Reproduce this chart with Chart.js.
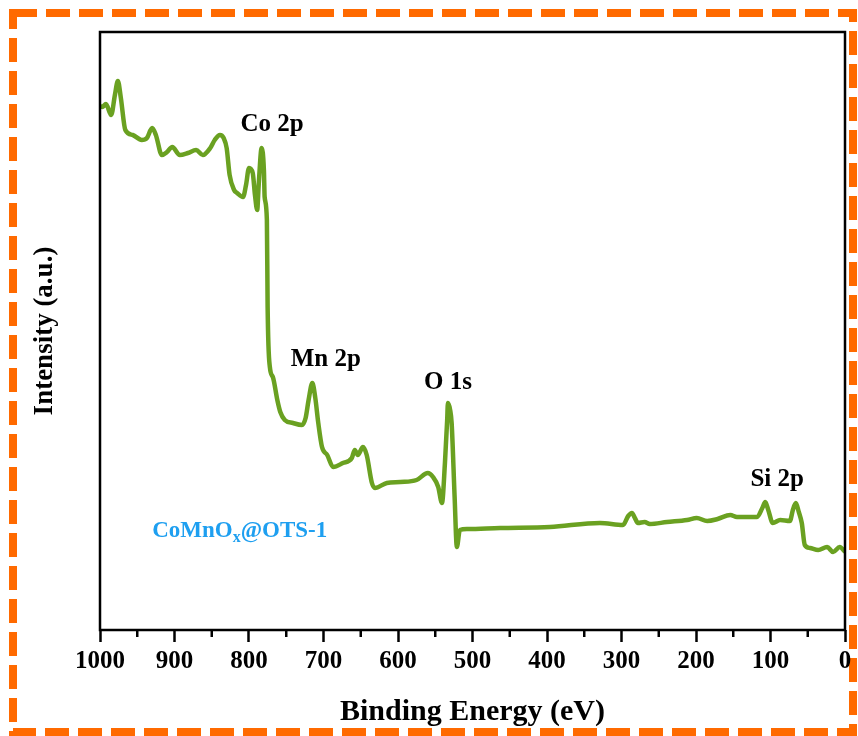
<!DOCTYPE html>
<html>
<head>
<meta charset="utf-8">
<script src="https://cdn.jsdelivr.net/npm/chart.js@4"></script>
<style>
  body { margin: 0; background: #fff; }
  canvas { display: block; }
</style>
</head>
<body>
<canvas id="xps" width="858" height="736"></canvas>
<script>
/* ========= DATA ========= */

const energy = [1000, 997, 992, 985, 980, 976, 972, 966, 956, 944, 937, 930, 925, 917, 910, 903, 893, 882, 871, 862,
  852, 846, 839, 834, 830, 826, 820, 816, 808, 804, 800, 795, 792, 789, 787, 783, 780, 779, 776, 775,
  772, 768, 762, 758, 752, 741, 729, 724, 720, 715, 711, 707, 702, 695, 687, 674, 662, 658, 654, 647,
  642, 635, 631, 615, 597, 575, 560, 553, 546, 541, 537, 534, 533, 530, 528, 524, 521, 517, 507, 463,
  396, 329, 298, 291, 286, 282, 278, 269, 262, 239, 212, 199, 185, 171, 154, 145, 118, 111, 107, 103,
  97, 87, 74, 70, 66, 62, 58, 54, 47, 36, 24, 16, 7, 0];

const intensity = [524, 523, 526, 515, 535, 549, 532, 500, 495, 490, 492, 502, 495, 475, 478, 483, 475, 477, 480, 475,
  482, 490, 495, 492, 482, 455, 440, 437, 433, 445, 462, 457, 435, 420, 445, 482, 460, 433, 410, 323,
  263, 253, 230, 218, 210, 207, 205, 212, 230, 247, 232, 207, 183, 175, 163, 167, 172, 180, 175, 183,
  175, 147, 142, 147, 148, 150, 157, 153, 143, 127, 167, 210, 227, 220, 207, 133, 83, 100, 101, 102,
  103, 107, 105, 114, 117, 112, 107, 108, 106, 108, 110, 112, 109, 111, 115, 113, 113, 122, 128, 120,
  107, 110, 109, 120, 127, 118, 107, 85, 82, 80, 83, 78, 83, 78];

const xTicks = [1000, 900, 800, 700, 600, 500, 400, 300, 200, 100, 0];
const minorTicks = [950, 850, 750, 650, 550, 450, 350, 250, 150, 50];

const peakLabels = ["Co 2p", "Mn 2p", "O 1s", "Si 2p"];
const peakX = [769, 697, 533, 91];
const peakY = [505, 270, 247, 150];

/* ========= PLUGINS ========= */

const frame = {
  id: "frame",
  beforeDraw(chart) {
    const ctx = chart.ctx;
    ctx.save();
    ctx.fillStyle = "#fff";
    ctx.fillRect(0, 0, chart.width, chart.height);
    // orange dashed outline round the figure
    ctx.strokeStyle = "#ff6a00";
    ctx.lineWidth = 8;
    ctx.setLineDash([24, 9]);
    ctx.strokeRect(13, 13, 840, 719);
    ctx.restore();
  },
  afterDraw(chart) {
    const { ctx, chartArea: a, scales } = chart;
    ctx.save();
    ctx.strokeStyle = "#000";
    ctx.lineWidth = 2.5;
    ctx.strokeRect(a.left, a.top, a.right - a.left, a.bottom - a.top);

    // minor ticks
    minorTicks.forEach(v => {
      const px = scales.x.getPixelForValue(v);
      ctx.beginPath();
      ctx.moveTo(px, a.bottom);
      ctx.lineTo(px, a.bottom + 7);
      ctx.stroke();
    });

    // peak labels
    ctx.fillStyle = "#000";
    ctx.font = "bold 25px 'Liberation Serif'";
    ctx.textAlign = "center";
    ctx.textBaseline = "middle";
    peakLabels.forEach((t, i) => {
      ctx.fillText(t, scales.x.getPixelForValue(peakX[i]), scales.y.getPixelForValue(peakY[i]));
    });

    // sample name with subscript x
    ctx.fillStyle = "#1e9ff0";
    ctx.textAlign = "left";
    let x = scales.x.getPixelForValue(930);
    const y = scales.y.getPixelForValue(99);
    ctx.font = "bold 23px 'Liberation Serif'";
    ctx.fillText("CoMnO", x, y);
    x += ctx.measureText("CoMnO").width;
    ctx.font = "bold 16px 'Liberation Serif'";
    ctx.fillText("x", x, y + 7);
    x += ctx.measureText("x").width;
    ctx.font = "bold 23px 'Liberation Serif'";
    ctx.fillText("@OTS-1", x, y);
    ctx.restore();
  }
};

/* ========= CHART ========= */

new Chart(document.getElementById("xps"), {
  type: "line",
  data: {
    datasets: [{
      data: energy.map((e, i) => ({ x: e, y: intensity[i] })),
      borderColor: "#6aa121",
      borderWidth: 4.5,
      pointRadius: 0,
      cubicInterpolationMode: "monotone",
      fill: false
    }]
  },
  options: {
    responsive: false,
    animation: false,
    devicePixelRatio: 1,
    layout: { padding: { top: 32, right: 13, bottom: 0, left: 0 } },
    plugins: { legend: { display: false }, tooltip: { enabled: false } },
    scales: {
      x: {
        type: "linear",
        reverse: true,
        min: 0,
        max: 1000,
        afterFit: s => { s.height = 106; },
        afterBuildTicks: s => { s.ticks = xTicks.map(v => ({ value: v })); },
        border: { display: false },
        grid: {
          drawOnChartArea: false,
          drawTicks: true,
          tickLength: 12,
          tickWidth: 2.5,
          tickColor: "#000"
        },
        ticks: {
          padding: 5,
          color: "#000",
          maxRotation: 0,
          font: { family: "'Liberation Serif'", weight: "bold", size: 25 },
          callback: v => String(v)
        },
        title: {
          display: true,
          text: "Binding Energy (eV)",
          color: "#000",
          padding: { top: 0, bottom: 6 },
          font: { family: "'Liberation Serif'", weight: "bold", size: 30 }
        }
      },
      y: {
        min: 0,
        max: 598,
        afterFit: s => { s.width = 100; },
        border: { display: false },
        grid: { display: false },
        ticks: { display: false },
        title: {
          display: true,
          text: "Intensity (a.u.)",
          color: "#000",
          padding: { top: 29, bottom: 0 },
          font: { family: "'Liberation Serif'", weight: "bold", size: 27 }
        }
      }
    }
  },
  plugins: [frame]
});
</script>
</body>
</html>
